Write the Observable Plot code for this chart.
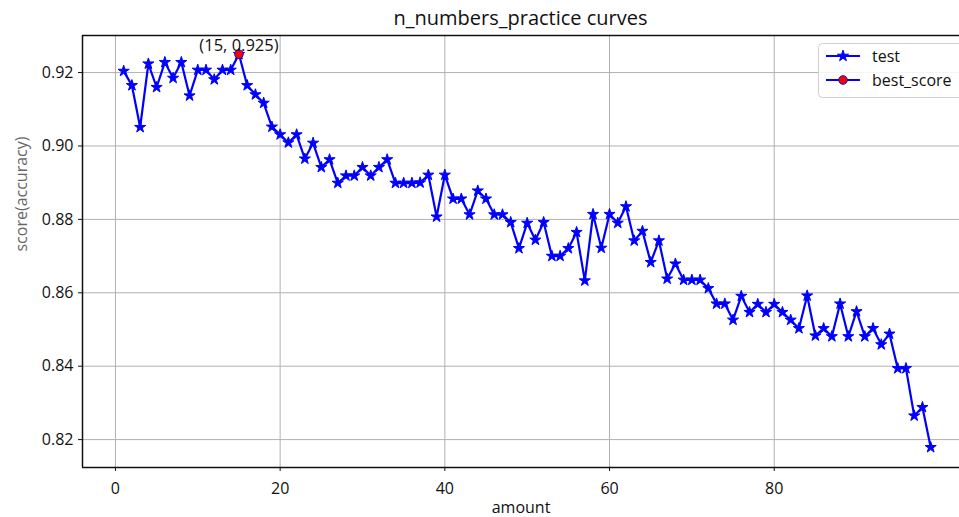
<!DOCTYPE html>
<html>
<head>
<meta charset="utf-8">
<script src="https://cdn.jsdelivr.net/npm/d3@7"></script>
<script src="https://cdn.jsdelivr.net/npm/@observablehq/plot@0.6"></script>
<style>
  html, body { margin: 0; padding: 0; background: #fff; }
  #wrap { position: relative; width: 959px; height: 517px; overflow: hidden; font-family: "Open Sans", "Noto Sans", sans-serif; }
  #title { position: absolute; left: 82px; width: 877px; top: 5px; height: 26px; text-align: center; font-size: 20px; line-height: 26px; color: #111; }
  #chart { position: absolute; left: 0; top: 30px; }
  #legend { position: absolute; left: 0; top: 0; pointer-events: none; }
</style>
</head>
<body>
<div id="wrap">
  <div id="title">n_numbers_practice curves</div>
  <div id="chart"></div>
  <svg id="legend" width="959" height="517"></svg>
</div>
<script>
// ---- data ----
const amounts = d3.range(1, 100);
const scores = [
  0.9204, 0.9165, 0.9051, 0.9224, 0.9160, 0.9228, 0.9185, 0.9228, 0.9137, 0.9207,
  0.9207, 0.9181, 0.9207, 0.9207, 0.9250, 0.9165, 0.9140, 0.9117, 0.9052, 0.9031,
  0.9009, 0.9031, 0.8965, 0.9008, 0.8942, 0.8963, 0.8899, 0.8919, 0.8919, 0.8942,
  0.8919, 0.8942, 0.8963, 0.8899, 0.8899, 0.8899, 0.8900, 0.8921, 0.8807, 0.8921,
  0.8856, 0.8856, 0.8813, 0.8878, 0.8856, 0.8813, 0.8813, 0.8792, 0.8721, 0.8790,
  0.8744, 0.8792, 0.8700, 0.8700, 0.8721, 0.8765, 0.8633, 0.8814, 0.8722, 0.8814,
  0.8790, 0.8835, 0.8742, 0.8768, 0.8683, 0.8742, 0.8638, 0.8679, 0.8635, 0.8635,
  0.8635, 0.8612, 0.8570, 0.8570, 0.8526, 0.8591, 0.8547, 0.8569, 0.8547, 0.8569,
  0.8547, 0.8526, 0.8503, 0.8592, 0.8483, 0.8503, 0.8481, 0.8570, 0.8481, 0.8549,
  0.8481, 0.8503, 0.8459, 0.8488, 0.8394, 0.8394, 0.8265, 0.8288, 0.8179
];
const bestAmount = [15];
const bestScore = [0.925];
const bestLabel = ["(15, 0.925)"];
const xTicks = [0, 20, 40, 60, 80];
const yTicks = [0.82, 0.84, 0.86, 0.88, 0.90, 0.92];
const seriesNames = ["test", "best_score"];

const data = amounts.map((a, i) => ({amount: a, score: scores[i]}));
const best = bestAmount.map((a, i) => ({amount: a, score: bestScore[i], label: bestLabel[i]}));

const xDomain = [-4.0, 102.5];
const yDomain = [0.8124, 0.9301];
const blue = "#0000ff";

const chart = Plot.plot({
  width: 959,
  height: 487,
  marginLeft: 82,
  marginRight: 0,
  marginTop: 5,
  marginBottom: 50,
  x: {domain: xDomain},
  y: {domain: yDomain},
  style: {fontFamily: "'Open Sans', 'Noto Sans', sans-serif", fontSize: "16px", color: "#111", background: "white", overflow: "visible"},
  marks: [
    Plot.gridX(xTicks, {stroke: "#b0b0b0", strokeOpacity: 1, strokeWidth: 1}),
    Plot.gridY(yTicks, {stroke: "#b0b0b0", strokeOpacity: 1, strokeWidth: 1}),
    Plot.axisX(xTicks, {tickSize: 4, tickPadding: 11, label: null, fontSize: 16, stroke: "#111"}),
    Plot.axisY(yTicks, {tickSize: 4, tickPadding: 5, label: null, fontSize: 16, tickFormat: d3.format(".2f"), stroke: "#111"}),
    Plot.ruleX([xDomain[0]], {stroke: "#111", strokeWidth: 1.5}),
    Plot.ruleY([yDomain[0]], {stroke: "#111", strokeWidth: 1.5}),
    Plot.ruleY([yDomain[1]], {stroke: "#111", strokeWidth: 1.5}),
    Plot.line(data, {x: "amount", y: "score", stroke: blue, strokeWidth: 2.2}),
    Plot.dot(data, {x: "amount", y: "score", symbol: "star", r: 3.5, fill: blue, stroke: blue, strokeWidth: 1}),
    Plot.dot(best, {x: "amount", y: "score", r: 4.3, fill: "#ff0000", stroke: "#1010c0", strokeWidth: 1}),
    Plot.text(best, {x: "amount", y: "score", text: "label", dy: -9, fontSize: 16.5, fill: "#111"}),
    Plot.text(["amount"], {frameAnchor: "bottom", dy: 40, lineAnchor: "middle", fontSize: 16, fill: "#111"}),
    Plot.text(["score(accuracy)"], {frameAnchor: "left", dx: -61, rotate: -90, lineAnchor: "middle", fontSize: 16, fill: "#666"})
  ]
});
document.getElementById("chart").appendChild(chart);

// ---- legend ----
const lg = d3.select("#legend");
lg.append("rect").attr("x", 818.5).attr("y", 43.5).attr("width", 160).attr("height", 54)
  .attr("rx", 4).attr("fill", "white").attr("fill-opacity", 0.85).attr("stroke", "#d0d0d0");
const rows = lg.selectAll("g.row").data(seriesNames).join("g")
  .attr("transform", (d, i) => `translate(0,${56 + i * 24})`);
rows.append("line").attr("x1", 826).attr("x2", 860).attr("y1", 0).attr("y2", 0)
  .attr("stroke", blue).attr("stroke-width", 2.2);
rows.filter((d, i) => i === 0).append("path")
  .attr("d", d3.symbol(d3.symbolStar, Math.PI * 3.5 * 3.5)())
  .attr("transform", "translate(843,0)").attr("fill", blue).attr("stroke", blue);
rows.filter((d, i) => i === 1).append("circle")
  .attr("cx", 843).attr("cy", 0).attr("r", 4.3).attr("fill", "#ff0000").attr("stroke", "#1010c0");
rows.append("text").attr("x", 872).attr("y", 0).attr("dy", "0.35em")
  .attr("font-family", "'Open Sans', 'Noto Sans', sans-serif").attr("font-size", 16).attr("fill", "#111")
  .text(d => d);
</script>
</body>
</html>
